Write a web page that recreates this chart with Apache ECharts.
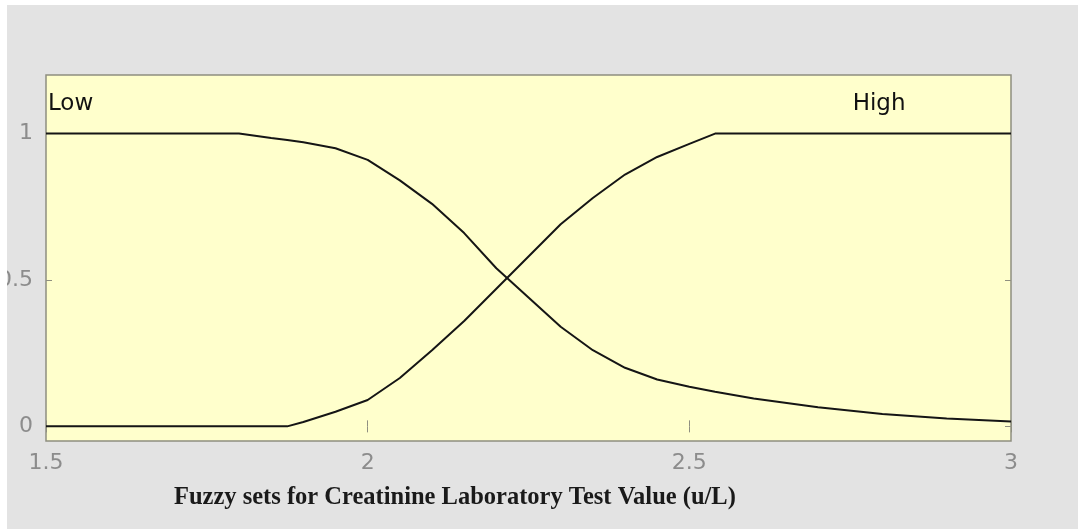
<!DOCTYPE html>
<html>
<head>
<meta charset="utf-8">
<script src="https://cdn.jsdelivr.net/npm/echarts@6/dist/echarts.min.js"></script>
<style>
  html, body { margin: 0; padding: 0; background: #ffffff; }
  #chart { position: absolute; left: 7px; top: 5px; width: 1071px; height: 524px; background: #e3e3e3; }
</style>
</head>
<body>
<div id="chart"></div>
<script>
// creatinine value (u/L)
var xValues = [1.5, 1.6, 1.7, 1.8, 1.85, 1.875, 1.9, 1.95, 2.0, 2.05, 2.1, 2.15, 2.2, 2.25, 2.3, 2.35, 2.4, 2.45, 2.5, 2.54, 2.6, 2.7, 2.8, 2.9, 3.0];
var lowValues = [1, 1, 1, 1, 0.985, 0.978, 0.97, 0.95, 0.91, 0.84, 0.76, 0.66, 0.54, 0.44, 0.34, 0.26, 0.2, 0.16, 0.135, 0.118, 0.095, 0.065, 0.042, 0.027, 0.017];
var highValues = [0, 0, 0, 0, 0, 0, 0.015, 0.05, 0.09, 0.165, 0.26, 0.36, 0.47, 0.58, 0.69, 0.78, 0.86, 0.92, 0.965, 1, 1, 1, 1, 1, 1];
var setNames = ['Low', 'High'];
var setLabelX = [1.503, 2.795];
var setLabelY = [1.1, 1.1];
var xTicks = [1.5, 2, 2.5, 3];
var yTicks = [0, 0.5, 1];
var xTitle = 'Fuzzy sets for Creatinine Laboratory Test Value (u/L)';

var myChart = echarts.init(document.getElementById('chart'));

function pairs(xs, ys) {
    return xs.map(function (x, i) { return [x, ys[i]]; });
}

var frameColor = '#8f8f80';
var labelColor = '#8c8c8c';

var option = {
    animation: false,
    grid: {
        left: 39, top: 70, width: 965, height: 366,
        outerBoundsMode: 'none',
        containLabel: false,
        show: true,
        backgroundColor: '#ffffcc',
        borderColor: frameColor,
        borderWidth: 1.5
    },
    title: {
        text: xTitle,
        left: 162, top: 475,
        textStyle: { fontFamily: 'Liberation Serif', fontWeight: 'bold', fontSize: 24.5, color: '#1a1a1a' }
    },
    xAxis: [{
        type: 'value', min: 1.5, max: 3, interval: 0.5,
        axisLine: { show: false },
        axisTick: { show: true, inside: true, length: 6, lineStyle: { color: frameColor } },
        axisLabel: { color: labelColor, fontFamily: 'DejaVu Sans', fontSize: 22, margin: 11,
            customValues: xTicks, formatter: function (v) { return String(v); } },
        splitLine: { show: false }
    }, {
        type: 'value', min: 1.5, max: 3, interval: 0.5, position: 'top',
        axisLine: { show: false },
        axisTick: { show: true, inside: true, length: 6, lineStyle: { color: frameColor } },
        axisLabel: { show: false },
        splitLine: { show: false }
    }],
    yAxis: [{
        type: 'value', min: -0.05, max: 1.2,
        axisLine: { show: false },
        axisTick: { show: true, inside: true, length: 6, customValues: yTicks, lineStyle: { color: frameColor } },
        axisLabel: { color: labelColor, fontFamily: 'DejaVu Sans', fontSize: 22, margin: 13,
            customValues: yTicks, formatter: function (v) { return String(v); } },
        splitLine: { show: false }
    }, {
        type: 'value', min: -0.05, max: 1.2, position: 'right',
        axisLine: { show: false },
        axisTick: { show: true, inside: true, length: 6, customValues: yTicks, lineStyle: { color: frameColor } },
        axisLabel: { show: false },
        splitLine: { show: false }
    }],
    series: [{
        name: setNames[0],
        type: 'line',
        data: pairs(xValues, lowValues),
        symbol: 'none',
        lineStyle: { color: '#151515', width: 2 }
    }, {
        name: setNames[1],
        type: 'line',
        data: pairs(xValues, highValues),
        symbol: 'none',
        lineStyle: { color: '#151515', width: 2 }
    }, {
        type: 'scatter',
        symbolSize: 0,
        itemStyle: { opacity: 1 },
        data: [
            { value: [setLabelX[0], setLabelY[0]], label: { align: 'left' } },
            { value: [setLabelX[1], setLabelY[1]], label: { align: 'center' } }
        ],
        label: {
            show: true, position: 'inside',
            formatter: function (p) { return setNames[p.dataIndex]; },
            fontFamily: 'DejaVu Sans', fontSize: 23, color: '#111', opacity: 1
        },
        silent: true
    }]
};

myChart.setOption(option);
</script>
</body>
</html>
